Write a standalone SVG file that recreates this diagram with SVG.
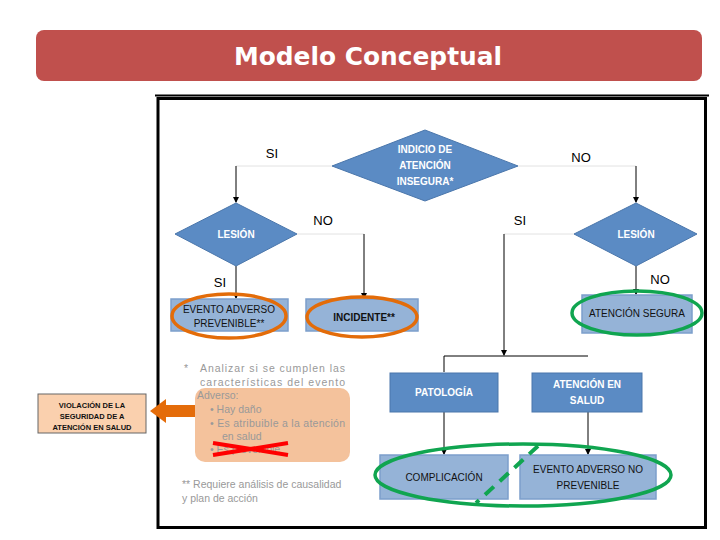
<svg xmlns="http://www.w3.org/2000/svg" width="720" height="540" viewBox="0 0 720 540">
<defs>
<marker id="ah" markerWidth="6" markerHeight="6" refX="5" refY="3" orient="auto" markerUnits="userSpaceOnUse">
<path d="M0,0 L6,3 L0,6 z" fill="#000"/>
</marker>
<style>
text{font-family:"Liberation Sans","Open Sans",sans-serif}
.dia{fill:#5B8BC4;stroke:#4A76AB;stroke-width:1}
.dbox{fill:#5B8BC4;stroke:#4A76AB;stroke-width:1}
.lbox{fill:#95B3D7;stroke:#7C9FCB;stroke-width:1.5}
.wt{fill:#fff;font-size:10px;text-anchor:middle;font-weight:bold}
.bt{fill:#111;font-size:10px;text-anchor:middle}
.lab{fill:#000;font-size:13px;text-anchor:middle}
.faint{stroke:#e2e2e2;stroke-width:1;fill:none}
.con{stroke:#000;stroke-width:1;fill:none}
.note{fill:#999;font-size:10.5px}
.oe{fill:none;stroke:#E36C09;stroke-width:3.5}
.ge{fill:none;stroke:#10A550;stroke-width:3.5}
</style>
</defs>
<rect width="720" height="540" fill="#fff"/>
<g id="title">
<rect x="36" y="30" width="666" height="51" rx="8" fill="#C0504D"/>
<text x="368" y="65" font-size="25" font-weight="bold" fill="#fff" text-anchor="middle" textLength="268" lengthAdjust="spacingAndGlyphs" style="font-family:'DejaVu Sans','Liberation Sans',sans-serif">Modelo Conceptual</text>
</g>
<g id="frame">
<line x1="155" y1="95.5" x2="709" y2="95.5" stroke="#000" stroke-width="2"/>
<rect x="158" y="98.5" width="547.5" height="429" fill="none" stroke="#000" stroke-width="3"/>
</g>
<g id="connectors">
<polyline class="faint" points="332,166 236,166"/>
<line class="con" x1="236" y1="166" x2="236" y2="202" marker-end="url(#ah)"/>
<polyline class="faint" points="518,166 636,166"/>
<line class="con" x1="636" y1="166" x2="636" y2="202" marker-end="url(#ah)"/>
<polyline class="faint" points="297,234 364,234"/>
<line class="con" x1="364" y1="234" x2="364" y2="298" marker-end="url(#ah)"/>
<line class="con" x1="236" y1="266" x2="236" y2="298" marker-end="url(#ah)"/>
<polyline class="faint" points="574,234 504,234"/>
<line class="con" x1="504" y1="234" x2="504" y2="355" marker-end="url(#ah)"/>
<line class="con" x1="636" y1="266" x2="636" y2="294" marker-end="url(#ah)"/>
<polyline class="con" points="588,356 444,356 444,372"/>
<line class="con" x1="444" y1="412" x2="444" y2="454" marker-end="url(#ah)"/>
<line class="con" x1="588" y1="412" x2="588" y2="454" marker-end="url(#ah)"/>
</g>
<g id="labels">
<text class="lab" x="272" y="158">SI</text>
<text class="lab" x="581" y="162">NO</text>
<text class="lab" x="323" y="225">NO</text>
<text class="lab" x="520" y="225">SI</text>
<text class="lab" x="220" y="287">SI</text>
<text class="lab" x="660" y="284">NO</text>
</g>
<g id="indicio">
<polygon class="dia" points="425,130 518,166 425,201 332,166"/>
<text class="wt" x="425" y="153">INDICIO DE</text>
<text class="wt" x="425" y="169">ATENCIÓN</text>
<text class="wt" x="425" y="185">INSEGURA*</text>
</g>
<g id="lesion-left">
<polygon class="dia" points="236,203 297,234 236,266 175,234"/>
<text class="wt" x="236" y="238">LESIÓN</text>
</g>
<g id="lesion-right">
<polygon class="dia" points="636,203 697,234 636,266 574,234"/>
<text class="wt" x="636" y="238">LESIÓN</text>
</g>
<g id="evento-prevenible">
<rect class="lbox" x="171" y="299" width="117" height="32"/>
<text class="bt" x="229" y="313">EVENTO ADVERSO</text>
<text class="bt" x="229" y="327">PREVENIBLE**</text>
<ellipse class="oe" cx="229" cy="316" rx="57" ry="22"/>
</g>
<g id="incidente">
<rect class="lbox" x="306" y="299" width="112" height="32"/>
<text class="bt" x="364" y="321" font-weight="bold">INCIDENTE**</text>
<ellipse class="oe" cx="362" cy="317" rx="55" ry="20"/>
</g>
<g id="atencion-segura">
<rect class="lbox" x="582" y="295" width="110" height="38"/>
<text class="bt" x="637" y="317">ATENCIÓN SEGURA</text>
<ellipse class="ge" cx="637" cy="313" rx="65" ry="22"/>
</g>
<g id="patologia">
<rect class="dbox" x="390" y="373" width="108" height="39"/>
<text class="wt" x="444" y="396">PATOLOGÍA</text>
</g>
<g id="atencion-salud">
<rect class="dbox" x="532" y="373" width="110" height="39"/>
<text class="wt" x="587" y="388">ATENCIÓN EN</text>
<text class="wt" x="587" y="404">SALUD</text>
</g>
<g id="complicacion">
<rect class="lbox" x="380" y="455" width="128" height="44"/>
<text class="bt" x="444" y="481">COMPLICACIÓN</text>
</g>
<g id="evento-no-prevenible">
<rect class="lbox" x="520" y="455" width="136" height="44"/>
<text class="bt" x="588" y="473">EVENTO ADVERSO NO</text>
<text class="bt" x="588" y="489">PREVENIBLE</text>
</g>
<g id="green-group">
<ellipse class="ge" cx="523" cy="475" rx="148" ry="31"/>
<line x1="538" y1="446" x2="476" y2="503" stroke="#10A550" stroke-width="4" stroke-dasharray="12,8"/>
</g>
<g id="violacion">
<rect x="38" y="394" width="108" height="39" fill="#FAD0AE" stroke="#666" stroke-width="1"/>
<text x="92" y="408" font-size="7.5" font-weight="bold" text-anchor="middle" fill="#111">VIOLACIÓN DE LA</text>
<text x="92" y="419" font-size="7.5" font-weight="bold" text-anchor="middle" fill="#111">SEGURIDAD DE A</text>
<text x="92" y="430" font-size="7.5" font-weight="bold" text-anchor="middle" fill="#111">ATENCIÓN EN SALUD</text>
</g>
<g id="orange-arrow">
<polygon points="195,405 166,405 166,399 150,411 166,423 166,417 195,417" fill="#E46C0A"/>
</g>
<g id="note">
<rect x="195" y="388" width="155" height="74" rx="10" fill="#F4C29C"/>
<text class="note" x="184" y="372">*</text>
<text class="note" x="200" y="372" textLength="145" lengthAdjust="spacing">Analizar si se cumplen las</text>
<text class="note" x="200" y="386" textLength="145" lengthAdjust="spacing">características del evento</text>
<text class="note" x="197" y="399">Adverso:</text>
<text class="note" x="210" y="413">•  Hay daño</text>
<text class="note" x="210" y="427" textLength="135" lengthAdjust="spacing">•  Es atribuible a la atención</text>
<text class="note" x="222" y="440">en salud</text>
<text class="note" x="210" y="453">•  Es prevenible</text>
<line x1="213" y1="443" x2="288" y2="455" stroke="#FF0000" stroke-width="4"/>
<line x1="213" y1="455" x2="288" y2="443" stroke="#FF0000" stroke-width="4"/>
<text class="note" x="182" y="488">** Requiere análisis de causalidad</text>
<text class="note" x="182" y="502">y plan de acción</text>
</g>
</svg>
